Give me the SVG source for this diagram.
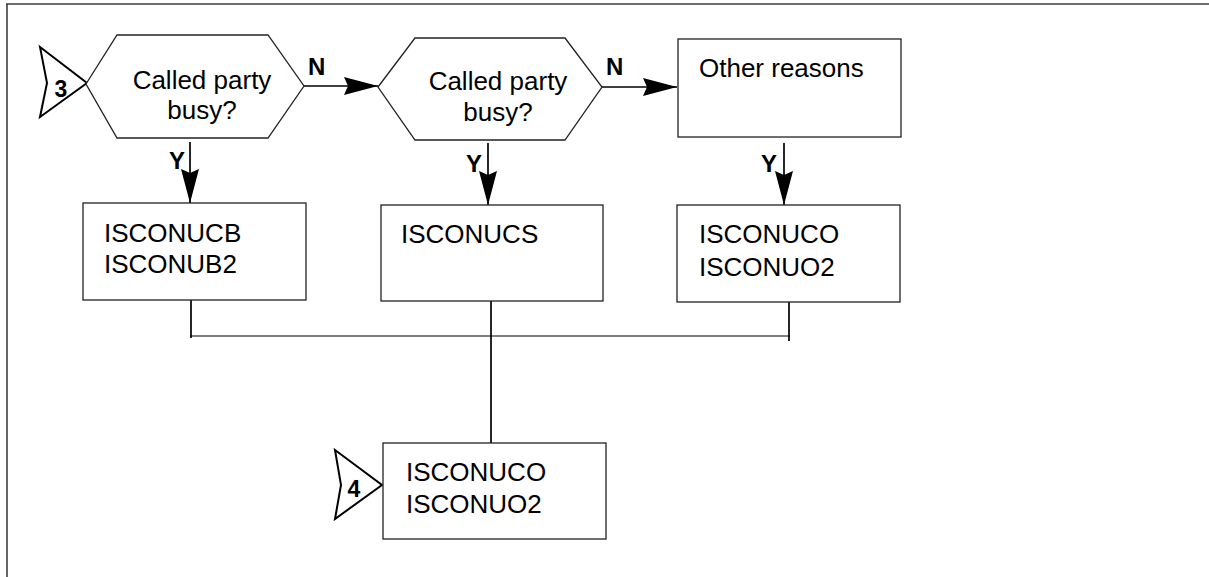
<svg xmlns="http://www.w3.org/2000/svg" width="1209" height="577" viewBox="0 0 1209 577">
<style>
  .box { fill: #ffffff; stroke: #222; stroke-width: 1.3; }
  .conn { fill: none; stroke: #000; stroke-width: 1.7; }
  .txt { font-family: "Liberation Sans", Arial, sans-serif; font-size: 26px; fill: #000; }
  .lbl { font-family: "Liberation Sans", Arial, sans-serif; font-size: 24px; font-weight: bold; fill: #000; }
  .tri { fill: #ffffff; stroke: #000; stroke-width: 2; stroke-linejoin: miter; }
  .num { font-family: "Liberation Sans", Arial, sans-serif; font-size: 23px; font-weight: bold; fill: #000; text-anchor: middle; }
</style>
<defs>
  <marker id="arrow" markerUnits="userSpaceOnUse" markerWidth="36" markerHeight="20" refX="34" refY="10" orient="auto">
    <path d="M0,1 L34,10 L0,19 L4,10 z" fill="#000"/>
  </marker>
</defs>
<rect width="1209" height="577" fill="#ffffff"/>
<g id="frame">
  <line x1="6" y1="4" x2="1209" y2="4" stroke="#6e6e6e" stroke-width="1.8"/>
  <line x1="7" y1="4" x2="7" y2="577" stroke="#333" stroke-width="1.5"/>
</g>
<g id="connectors">
  <line class="conn" x1="304" y1="86" x2="378" y2="86" marker-end="url(#arrow)"/>
  <line class="conn" x1="602" y1="87" x2="677" y2="87" marker-end="url(#arrow)"/>
  <line class="conn" x1="190" y1="142" x2="190" y2="203" marker-end="url(#arrow)"/>
  <line class="conn" x1="488" y1="143" x2="488" y2="205" marker-end="url(#arrow)"/>
  <line class="conn" x1="784" y1="143" x2="784" y2="205" marker-end="url(#arrow)"/>
  <line class="conn" x1="191" y1="300" x2="191" y2="338"/>
  <line class="conn" x1="789" y1="302" x2="789" y2="341"/>
  <line x1="190" y1="336" x2="790" y2="336" stroke="#000" stroke-width="1.2"/>
  <line class="conn" x1="491" y1="301" x2="491" y2="443" stroke-width="2"/>
  <text class="lbl" x="308" y="75">N</text>
  <text class="lbl" x="606" y="75">N</text>
  <text class="lbl" x="169" y="169">Y</text>
  <text class="lbl" x="466" y="172">Y</text>
  <text class="lbl" x="761" y="172">Y</text>
</g>
<g id="connector3">
  <path class="tri" d="M40,47 L87,83 L40,117 L47,83 z"/>
  <text class="num" x="61" y="97">3</text>
</g>
<g id="decision1">
  <polygon class="box" points="86,84 117,35 268,35 304,86 268,138 117,138"/>
  <text class="txt" x="202" y="89" text-anchor="middle">Called party</text>
  <text class="txt" x="202" y="119" text-anchor="middle">busy?</text>
</g>
<g id="decision2">
  <polygon class="box" points="378,87 415,38 565,38 602,87 565,140 415,140"/>
  <text class="txt" x="498" y="90" text-anchor="middle">Called party</text>
  <text class="txt" x="498" y="121" text-anchor="middle">busy?</text>
</g>
<g id="other">
  <rect class="box" x="678" y="39" width="223" height="98"/>
  <text class="txt" x="699" y="77">Other reasons</text>
</g>
<g id="box-ucb">
  <rect class="box" x="83" y="203" width="223" height="97"/>
  <text class="txt" x="104" y="242">ISCONUCB</text>
  <text class="txt" x="104" y="273">ISCONUB2</text>
</g>
<g id="box-ucs">
  <rect class="box" x="381" y="205" width="222" height="96"/>
  <text class="txt" x="401" y="243">ISCONUCS</text>
</g>
<g id="box-uco">
  <rect class="box" x="677" y="205" width="223" height="97"/>
  <text class="txt" x="699" y="243">ISCONUCO</text>
  <text class="txt" x="699" y="276">ISCONUO2</text>
</g>
<g id="connector4">
  <path class="tri" d="M335,450 L382,485 L335,519 L341,485 z"/>
  <text class="num" x="354" y="497">4</text>
</g>
<g id="box-final">
  <rect class="box" x="383" y="443" width="223" height="96"/>
  <text class="txt" x="406" y="481">ISCONUCO</text>
  <text class="txt" x="406" y="513">ISCONUO2</text>
</g>
</svg>
